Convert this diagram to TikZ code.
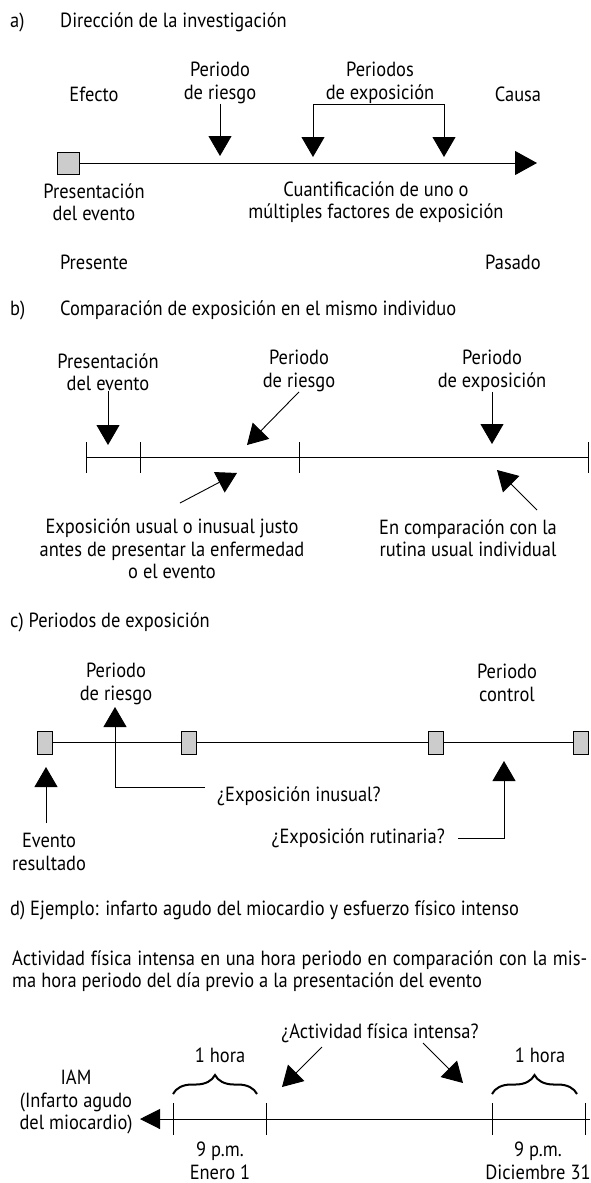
\documentclass[tikz,border=0pt]{standalone}
\usepackage{fontspec}
\setmainfont{PT Sans}[FakeStretch=0.9]
\usetikzlibrary{arrows.meta,decorations.pathreplacing}

\tikzset{
  lbl/.style={inner sep=0pt, align=center},
  bigarrow/.style={line width=0.9pt, -{Triangle[width=23pt,length=20pt]}},
  evbox/.style={draw, fill=gray!40, line width=0.8pt, inner sep=0pt, minimum width=22pt, minimum height=22pt},
  cbox/.style={draw, fill=gray!40, line width=0.8pt, inner sep=0pt, minimum width=15pt, minimum height=23pt},
  tline/.style={line width=1pt},
  hbrace/.style={line width=2pt, decorate, decoration={brace, amplitude=19pt}}
}

\begin{document}
\begin{tikzpicture}[x=1pt, y=-1pt, every node/.style={font=\fontsize{20.5}{22.5}\selectfont}]
        \useasboundingbox (0,0) rectangle (590,1183);

        % a) Direction of research
        \node[lbl, anchor=west] (alabel) at (10,22) {a)};
        \node[lbl, anchor=west] (atitle) at (60,22) {Dirección de la investigación};
        \node[lbl] (aeff) at (94,94) {Efecto};
        \node[lbl] (arisk) at (220,83) {Periodo\\de riesgo};
        \node[lbl] (aexp) at (380,83) {Periodos\\de exposición};
        \node[lbl] (acause) at (518,94) {Causa};
        \node[evbox] (aev) at (68,163) {};
        \coordinate (aend) at (537,163);
        \draw[tline, -{Triangle[width=24pt,length=22pt]}] (aev.east) -- (aend);
        \coordinate (arisktip) at (220,156);
        \draw[bigarrow] (arisk.south) -- (arisktip);
        \coordinate (abrl) at (313,104);
        \coordinate (abrr) at (444,104);
        \coordinate (aexp1) at (313,157);
        \coordinate (aexp2) at (444,157);
        \draw[line width=0.9pt] (abrl) -- (abrr);
        \draw[bigarrow] (abrl) -- (aexp1);
        \draw[bigarrow] (abrr) -- (aexp2);
        \node[lbl] (aevt) at (94,202) {Presentación\\del evento};
        \node[lbl] (aquant) at (376,202) {Cuantificación de uno o\\múltiples factores de exposición};
        \node[lbl] (apres) at (94,262) {Presente};
        \node[lbl] (apast) at (513,262) {Pasado};

        % b) Same individual
        \node[lbl, anchor=west] (blabel) at (10,310) {b)};
        \node[lbl, anchor=west] (btitle) at (60,310) {Comparación de exposición en el mismo individuo};
        \node[lbl] (bevt) at (108,372) {Presentación\\del evento};
        \node[lbl] (brisk) at (299,371) {Periodo\\de riesgo};
        \node[lbl] (bexp) at (492,371) {Periodo\\de exposición};
        \draw[tline] (86,457) -- (588,457);
        \foreach \tx in {86,140,299,588}
            \draw[tline] (\tx,442) -- (\tx,473);
        \coordinate (bevtip) at (108,445);
        \coordinate (brisktip) at (247,445);
        \coordinate (bexptip) at (492,444);
        \draw[bigarrow] (bevt.south) -- (bevtip);
        \draw[bigarrow] (brisk.south) -- (brisktip);
        \draw[bigarrow] (bexp.south) -- (bexptip);
        \node[lbl] (busual) at (172,549) {Exposición usual o inusual justo\\antes de presentar la enfermedad\\o el evento};
        \node[lbl] (bcomp) at (468,538) {En comparación con la\\rutina usual individual};
        \coordinate (busfrom) at (180,503);
        \coordinate (bustip) at (237,473);
        \coordinate (bcofrom) at (537,510);
        \coordinate (bcotip) at (497,470);
        \draw[bigarrow] (busfrom) -- (bustip);
        \draw[bigarrow] (bcofrom) -- (bcotip);

        % c) Exposure periods
        \node[lbl, anchor=west] (clabel) at (10,622) {c) Periodos de exposición};
        \node[lbl] (crisk) at (116,684) {Periodo\\de riesgo};
        \node[lbl] (cctrl) at (507,683) {Periodo\\control};
        \node[cbox] (c1) at (44.5,742.5) {};
        \node[cbox] (c2) at (188.5,742.5) {};
        \node[cbox] (c3) at (436,742.5) {};
        \node[cbox] (c4) at (580.5,742.5) {};
        \draw[tline] (c1.east) -- (c2.west) (c2.east) -- (c3.west) (c3.east) -- (c4.west);
        \node[lbl, anchor=west] (cunus) at (217,796) {¿Exposición inusual?};
        \coordinate (crisktip) at (115,707);
        \coordinate (criskend) at (205,787);
        \draw[bigarrow] (criskend) -| (crisktip);
        \node[lbl] (cevt) at (49,852) {Evento\\resultado};
        \coordinate (cevbot) at (46,823);
        \coordinate (cevtip) at (46,767);
        \draw[bigarrow] (cevbot) -- (cevtip);
        \node[lbl, anchor=east] (crut) at (445,838) {¿Exposición rutinaria?};
        \coordinate (cctip) at (504,761);
        \draw[bigarrow] ([xshift=13pt]crut.east) -| (cctip);

        % d) Example
        \node[lbl, anchor=west] (dlabel) at (10,910) {d) Ejemplo: infarto agudo del miocardio y esfuerzo físico intenso};
        \node[inner sep=0pt, align=left, anchor=west] (dpar) at (12,971) {\makebox[575pt][s]{Actividad física intensa en una hora periodo en comparación con la mis-}\\ma hora periodo del día previo a la presentación del evento};
        \node[lbl] (dact) at (380,1033) {¿Actividad física intensa?};
        \node[lbl] (dh1) at (220,1055) {1 hora};
        \node[lbl] (dh2) at (540,1055) {1 hora};
        \draw[hbrace] (173,1094) -- (257,1094);
        \draw[hbrace] (492,1094) -- (577,1094);
        \coordinate (dright) at (590,1119);
        \coordinate (dtip) at (140,1119);
        \draw[tline, -{Triangle[width=20pt,length=20pt]}] (dright) -- (dtip);
        \foreach \tx in {173,266,492,585}
            \draw[tline] (\tx,1103) -- (\tx,1135);
        \node[lbl] (diam) at (76,1102) {IAM\\(Infarto agudo\\del miocardio)};
        \coordinate (dafrom1) at (322,1047);
        \coordinate (datip1) at (282,1087);
        \coordinate (dafrom2) at (423,1043);
        \coordinate (datip2) at (463,1083);
        \draw[bigarrow] (dafrom1) -- (datip1);
        \draw[bigarrow] (dafrom2) -- (datip2);
        \node[lbl] (dt1) at (220,1161) {9 p.m.\\Enero 1};
        \node[lbl] (dt2) at (538,1161) {9 p.m.\\Diciembre 31};

    \end{tikzpicture}
\end{document}
